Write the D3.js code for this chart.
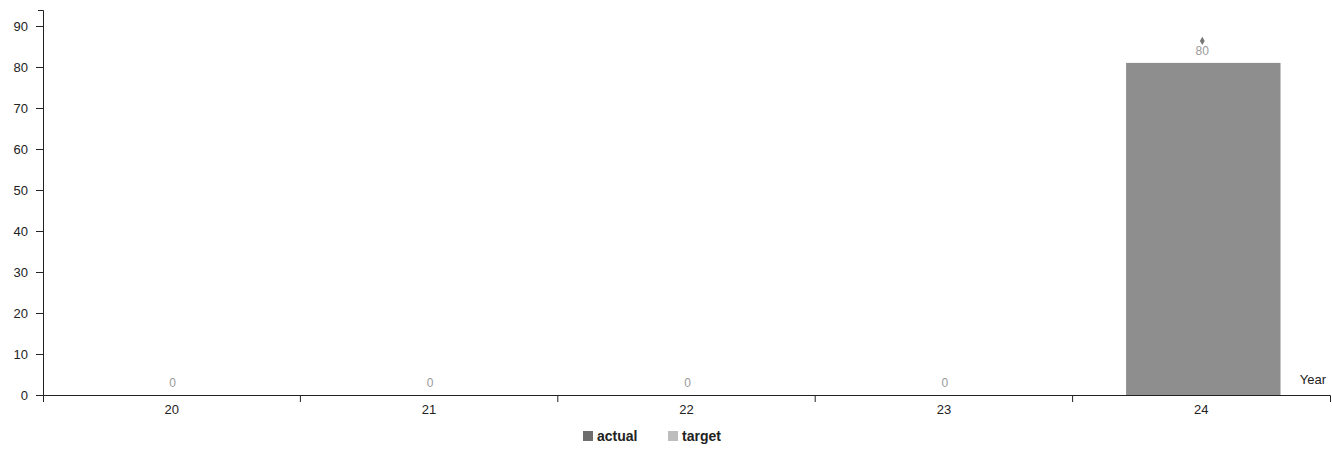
<!DOCTYPE html>
<html><head><meta charset="utf-8">
<script src="https://cdn.jsdelivr.net/npm/d3@7"></script>
<style>
body{margin:0;background:#fff;}
text{font-family:"Liberation Sans",Arial,sans-serif;}
</style></head>
<body><svg id="c" width="1332" height="452"></svg>
<script>
const categories = ["20","21","22","23","24"];
const actualValues = [0,0,0,0,81];
const targetValues = [0,0,0,0,80];
const yTicks = [0,10,20,30,40,50,60,70,80,90];
const seriesNames = ["actual","target"];
const seriesColors = ["#6e6e6e","#bdbdbd"];

(function(){
const svg = d3.select("#c");
const mLeft = 43, mRight = 1330, mTop = 10, mBottom = 395;
const x = d3.scaleBand().domain(categories).range([mLeft, mRight]).paddingInner(0.4).paddingOuter(0.2);
const xb = d3.scaleBand().domain(categories).range([mLeft, mRight]);
const y = d3.scaleLinear().domain([0, 93.9]).range([mBottom, mTop]);

// bars
svg.append("g").selectAll("rect").data(categories).join("rect")
  .attr("x", d => x(d) + 2)
  .attr("width", x.bandwidth())
  .attr("y", (d,i) => y(actualValues[i]))
  .attr("height", (d,i) => y(0) - y(actualValues[i]))
  .attr("fill", "#8e8e8e");

// y axis
const ya = svg.append("g").attr("transform", `translate(${mLeft},0)`)
  .call(d3.axisLeft(y).tickValues(yTicks).tickSize(7).tickSizeOuter(5).tickPadding(8));
ya.selectAll("text").attr("font-size", 13).attr("fill", "#222").attr("font-family","Liberation Sans, Arial, sans-serif");
ya.selectAll("path,line").attr("stroke", "#222");

// x axis
const xa = svg.append("g").attr("transform", `translate(0,${mBottom})`)
  .call(d3.axisBottom(xb).tickSize(0).tickSizeOuter(7).tickPadding(10));
xa.selectAll("text").attr("font-size", 13).attr("fill", "#222").attr("font-family","Liberation Sans, Arial, sans-serif");
xa.selectAll("path").attr("stroke", "#222");
// boundary ticks
xa.selectAll("line.bt").data(categories.slice(1)).join("line").attr("class","bt")
  .attr("x1", d => xb(d)).attr("x2", d => xb(d)).attr("y1", 0).attr("y2", 7).attr("stroke", "#222");

// axis title
svg.append("text").attr("x", 1326).attr("y", mBottom - 11).attr("text-anchor", "end")
  .attr("font-size", 13).attr("fill", "#222").text("Year");

// value labels (target)
svg.append("g").selectAll("text").data(categories).join("text")
  .attr("x", d => x(d) + x.bandwidth()/2 + 1)
  .attr("y", (d,i) => y(Math.max(actualValues[i], targetValues[i])) - 8)
  .attr("text-anchor", "middle").attr("font-size", 12).attr("fill", "#9a9a9a")
  .text((d,i) => targetValues[i]);

// target markers for nonzero targets
svg.append("g").selectAll("path").data(categories.filter((d,i)=>targetValues[i]>0)).join("path")
  .attr("d", d3.symbol().type(d3.symbolDiamond).size(20))
  .attr("transform", d => { const i = categories.indexOf(d); return `translate(${x(d)+x.bandwidth()/2+1},${y(Math.max(actualValues[i],targetValues[i]))-22})`; })
  .attr("fill", "#777");

// legend
const lg = svg.append("g").attr("transform", "translate(583,431)");
const items = lg.selectAll("g").data(seriesNames).join("g")
  .attr("transform", (d,i) => `translate(${i*85},0)`);
items.append("rect").attr("width", 10).attr("height", 10).attr("fill", (d,i) => seriesColors[i]);
items.append("text").attr("x", 14).attr("y", 10).attr("font-size", 14).attr("font-weight", "bold")
  .attr("fill", "#222").text(d => d);
})();
</script></body></html>
